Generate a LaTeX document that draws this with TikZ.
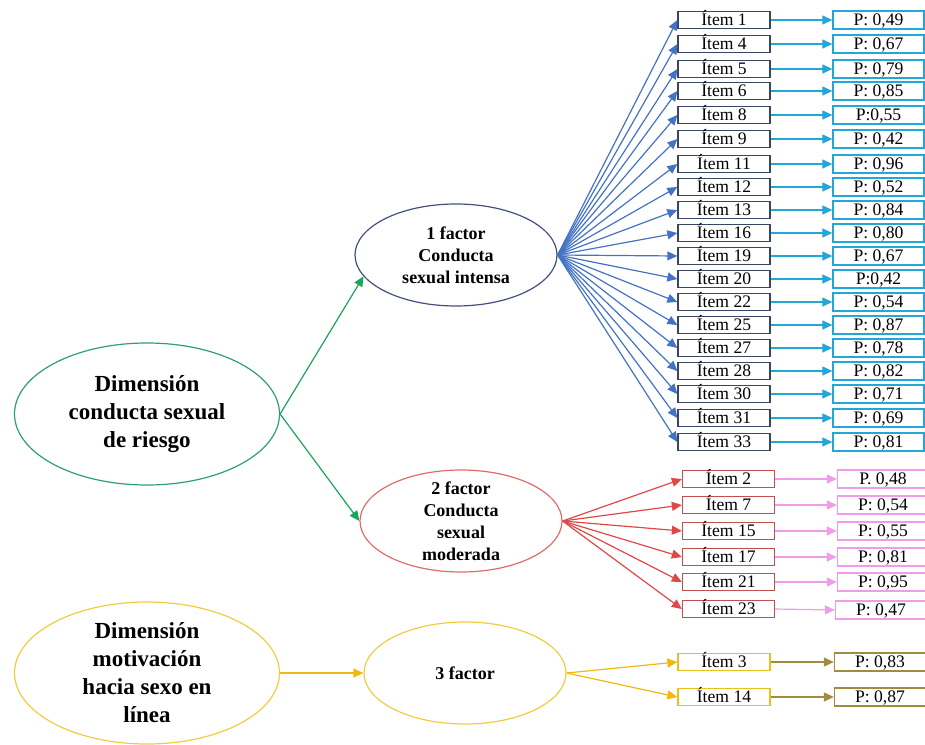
\documentclass[tikz,border=0pt]{standalone}
\usepackage{fontspec}
\setmainfont{Liberation Serif}
\usetikzlibrary{arrows.meta,shapes.geometric}
\definecolor{dimgreen}{HTML}{2E9E78}
\definecolor{arrgreen}{HTML}{1AA55A}
\definecolor{facnavy}{HTML}{44507A}
\definecolor{arrblue}{HTML}{4472C4}
\definecolor{boxnavy}{HTML}{3A4560}
\definecolor{pcyan}{HTML}{22A7D8}
\definecolor{facred}{HTML}{E06B6B}
\definecolor{arrred}{HTML}{E04848}
\definecolor{boxred}{HTML}{C0504D}
\definecolor{ppink}{HTML}{F09CEB}
\definecolor{dimyellow}{HTML}{F0CC40}
\definecolor{arryellow}{HTML}{F0B90F}
\definecolor{boxyellow}{HTML}{E8C020}
\definecolor{polive}{HTML}{A08C3C}
\begin{document}
\begin{tikzpicture}[x=0.5pt, y=-0.5pt,
    dim/.style={ellipse, draw, line width=0.6pt, inner sep=0pt, minimum width=132.5pt, minimum height=71pt, align=center, font=\fontsize{11.5}{14}\selectfont\bfseries},
    fac/.style={ellipse, draw, line width=0.6pt, inner xsep=0pt, inner ysep=-2pt, minimum width=101pt, minimum height=51pt, align=center, font=\fontsize{9}{11}\selectfont\bfseries},
    item/.style={draw, line width=0.65pt, inner sep=0pt, minimum width=46pt, minimum height=8.5pt, text height=5.8pt, text depth=0pt, font=\fontsize{8.8}{9}\selectfont},
    pbox/.style={item, minimum width=45.5pt, minimum height=9pt},
    arr/.style={-{Triangle[length=5pt,width=4.5pt]}, line width=0.6pt}]
    \useasboundingbox (0, 0) rectangle (925, 744);
    % dimensions and factors
    \node [dim, dimgreen] (dimA) at (147, 414) {\color{black}Dimensión\\\color{black}conducta sexual\\\color{black}de riesgo};
    \node [dim, dimyellow] (dimB) at (147, 673) {\color{black}Dimensión\\\color{black}motivación\\\color{black}hacia sexo en\\\color{black}línea};
    \node [fac, facnavy] (facA) at (456, 255) {\color{black}1 factor\\\color{black}Conducta\\\color{black}sexual intensa};
    \node [fac, facred] (facB) at (461, 521) {\color{black}2 factor\\\color{black}Conducta\\\color{black}sexual\\\color{black}moderada};
    \node [fac, dimyellow] (facC) at (465, 673) {\color{black}3 factor};
    \draw [arr, arrgreen] (dimA.east) -- (facA.193);
    \draw [arr, arrgreen] (dimA.east) -- (facB.west);
    \draw [arr, arryellow] (dimB.east) -- (facC.west);
    % factor 1 items
    \node [item, boxnavy] (i1) at (724, 20) {\color{black}Ítem 1};
    \node [item, boxnavy] (i4) at (724, 44) {\color{black}Ítem 4};
    \node [item, boxnavy] (i5) at (724, 69) {\color{black}Ítem 5};
    \node [item, boxnavy] (i6) at (724, 91) {\color{black}Ítem 6};
    \node [item, boxnavy] (i8) at (724, 115) {\color{black}Ítem 8};
    \node [item, boxnavy] (i9) at (724, 139) {\color{black}Ítem 9};
    \node [item, boxnavy] (i11) at (724, 164) {\color{black}Ítem 11};
    \node [item, boxnavy] (i12) at (724, 187) {\color{black}Ítem 12};
    \node [item, boxnavy] (i13) at (724, 210) {\color{black}Ítem 13};
    \node [item, boxnavy] (i16) at (724, 233) {\color{black}Ítem 16};
    \node [item, boxnavy] (i19) at (724, 256) {\color{black}Ítem 19};
    \node [item, boxnavy] (i20) at (724, 279) {\color{black}Ítem 20};
    \node [item, boxnavy] (i22) at (724, 302) {\color{black}Ítem 22};
    \node [item, boxnavy] (i25) at (724, 325) {\color{black}Ítem 25};
    \node [item, boxnavy] (i27) at (724, 348) {\color{black}Ítem 27};
    \node [item, boxnavy] (i28) at (724, 371) {\color{black}Ítem 28};
    \node [item, boxnavy] (i30) at (724, 394) {\color{black}Ítem 30};
    \node [item, boxnavy] (i31) at (724, 418) {\color{black}Ítem 31};
    \node [item, boxnavy] (i33) at (724, 442) {\color{black}Ítem 33};
    \node [pbox, pcyan] (p1) at (878.5, 20) {\color{black}P: 0,49};
    \node [pbox, pcyan] (p4) at (878.5, 44) {\color{black}P: 0,67};
    \node [pbox, pcyan] (p5) at (878.5, 69) {\color{black}P: 0,79};
    \node [pbox, pcyan] (p6) at (878.5, 91) {\color{black}P: 0,85};
    \node [pbox, pcyan] (p8) at (878.5, 115) {\color{black}P:0,55};
    \node [pbox, pcyan] (p9) at (878.5, 139) {\color{black}P: 0,42};
    \node [pbox, pcyan] (p11) at (878.5, 164) {\color{black}P: 0,96};
    \node [pbox, pcyan] (p12) at (878.5, 187) {\color{black}P: 0,52};
    \node [pbox, pcyan] (p13) at (878.5, 210) {\color{black}P: 0,84};
    \node [pbox, pcyan] (p16) at (878.5, 233) {\color{black}P: 0,80};
    \node [pbox, pcyan] (p19) at (878.5, 256) {\color{black}P: 0,67};
    \node [pbox, pcyan] (p20) at (878.5, 279) {\color{black}P:0,42};
    \node [pbox, pcyan] (p22) at (878.5, 302) {\color{black}P: 0,54};
    \node [pbox, pcyan] (p25) at (878.5, 325) {\color{black}P: 0,87};
    \node [pbox, pcyan] (p27) at (878.5, 348) {\color{black}P: 0,78};
    \node [pbox, pcyan] (p28) at (878.5, 371) {\color{black}P: 0,82};
    \node [pbox, pcyan] (p30) at (878.5, 394) {\color{black}P: 0,71};
    \node [pbox, pcyan] (p31) at (878.5, 418) {\color{black}P: 0,69};
    \node [pbox, pcyan] (p33) at (878.5, 442) {\color{black}P: 0,81};
    \foreach \n in {1, 4, 5, 6, 8, 9, 11, 12, 13, 16, 19, 20, 22, 25, 27, 28, 30, 31, 33} {
        \draw [arr, arrblue] (facA.east) -- (i\n.west);
        \draw [arr, pcyan] (i\n.east) -- (p\n.west);
    }
    % factor 2 items
    \node [item, boxred] (i2) at (728.5, 479) {\color{black}Ítem 2};
    \node [item, boxred] (i7) at (728.5, 505) {\color{black}Ítem 7};
    \node [item, boxred] (i15) at (728.5, 531) {\color{black}Ítem 15};
    \node [item, boxred] (i17) at (728.5, 557) {\color{black}Ítem 17};
    \node [item, boxred] (i21) at (728.5, 582) {\color{black}Ítem 21};
    \node [item, boxred] (i23) at (728.5, 609) {\color{black}Ítem 23};
    \node [pbox, ppink] (p2) at (883, 479) {\color{black}P. 0,48};
    \node [pbox, ppink] (p7) at (883, 505) {\color{black}P: 0,54};
    \node [pbox, ppink] (p15) at (883, 531) {\color{black}P: 0,55};
    \node [pbox, ppink] (p17) at (883, 557) {\color{black}P: 0,81};
    \node [pbox, ppink] (p21) at (883, 582) {\color{black}P: 0,95};
    \node [pbox, ppink] (p23) at (881, 610) {\color{black}P: 0,47};
    \foreach \n in {2, 7, 15, 17, 21, 23} {
        \draw [arr, arrred] (facB.east) -- (i\n.west);
        \draw [arr, ppink] (i\n.east) -- (p\n.west);
    }
    % factor 3 items
    \node [item, boxyellow] (i3) at (724, 662) {\color{black}Ítem 3};
    \node [item, boxyellow] (i14) at (724, 697) {\color{black}Ítem 14};
    \node [pbox, polive] (p3) at (880, 662) {\color{black}P: 0,83};
    \node [pbox, polive] (p14) at (880, 697) {\color{black}P: 0,87};
    \draw [arr, arryellow] (facC.east) -- (i3.west);
    \draw [arr, arryellow] (facC.east) -- (i14.west);
    \draw [arr, polive] (i3.east) -- (p3.west);
    \draw [arr, polive] (i14.east) -- (p14.west);
\end{tikzpicture}
\end{document}
